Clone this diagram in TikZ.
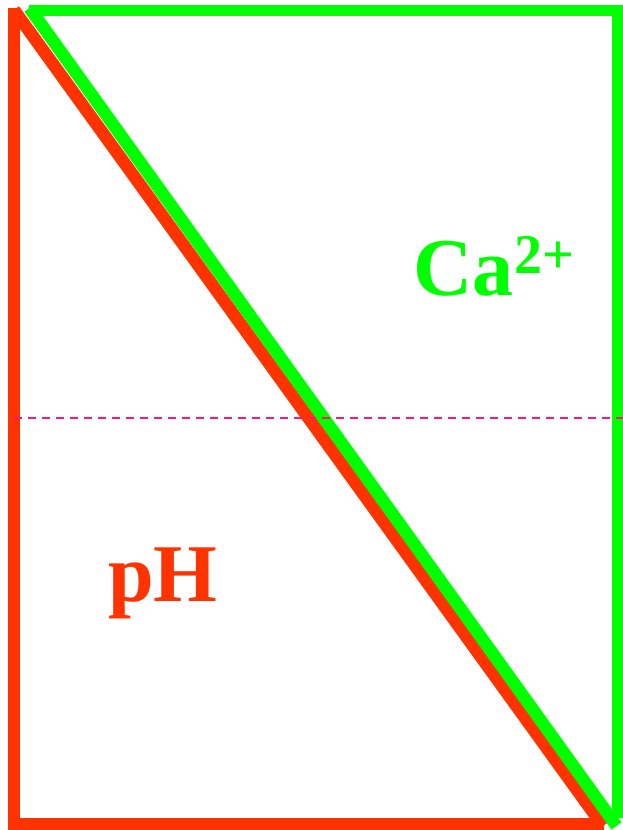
\documentclass[tikz,border=0pt]{standalone}
\usepackage{fontspec}
\setmainfont{Liberation Serif}
\definecolor{redc}{RGB}{255,51,0}
\definecolor{greenc}{RGB}{0,255,0}
\definecolor{pinkc}{RGB}{255,20,120}
\begin{document}
\begin{tikzpicture}[x=1pt,y=-1pt,
  redline/.style={draw=redc,line width=12.5pt,line cap=butt},
  greenline/.style={draw=greenc,line width=11.5pt,line cap=butt},
  midline/.style={draw=pinkc,line width=2.2pt,dash pattern=on 8pt off 6pt},
  lbl/.style={inner sep=0pt,anchor=base west,font=\bfseries\fontsize{82}{82}\selectfont}]
\useasboundingbox (0,0) rectangle (623,830);
% red triangle
\coordinate (rt) at (14,8);
\coordinate (rb) at (14,830);
\coordinate (bl) at (8,824);
\coordinate (br) at (604,824);
\coordinate (rd1) at (14,10);
\coordinate (rd2) at (603,826);
\draw[redline] (rt) -- (rb);
\draw[redline] (bl) -- (br);
\draw[redline] (rd1) -- (rd2);
% green triangle
\coordinate (gt1) at (29,10.5);
\coordinate (gt2) at (623,10.5);
\coordinate (gr1) at (618,5);
\coordinate (gr2) at (618,818);
\coordinate (gd1) at (29.5,8);
\coordinate (gd2) at (616.5,826);
\draw[greenline] (gt1) -- (gt2);
\draw[greenline] (gr1) -- (gr2);
\draw[greenline,line width=12.5pt] (gd1) -- (gd2);
% dashed middle line
\coordinate (m1) at (14,418);
\coordinate (m2) at (623,418);
\draw[midline] (m1) -- (m2);
% labels
\node[lbl,text=greenc] (ca) at (413,295) {Ca\kern1pt\raisebox{22pt}{\fontsize{56}{56}\selectfont 2+}};
\node[lbl,text=redc] (ph) at (108,601) {pH};
\end{tikzpicture}
\end{document}
